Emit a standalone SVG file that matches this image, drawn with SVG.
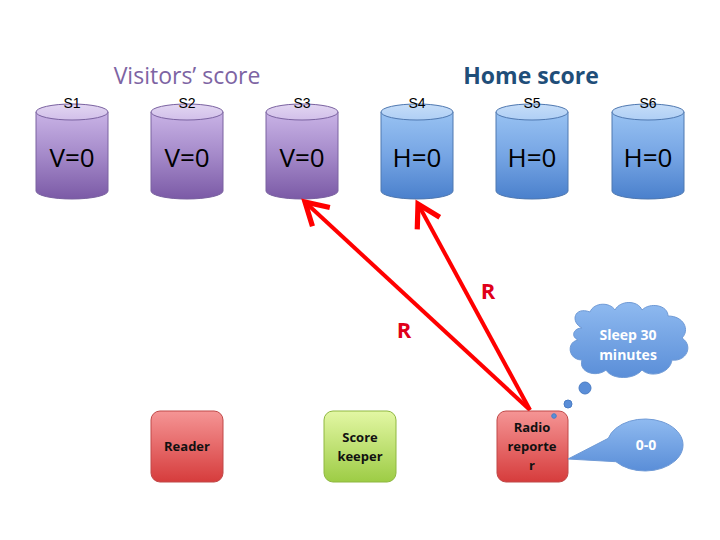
<svg xmlns="http://www.w3.org/2000/svg" width="720" height="540" viewBox="0 0 720 540">
<defs>
<linearGradient id="gPurple" x1="0" y1="0" x2="0" y2="1">
<stop offset="0" stop-color="#c9b3e6"/><stop offset="0.5" stop-color="#a489c9"/><stop offset="1" stop-color="#7b5aa6"/>
</linearGradient>
<linearGradient id="gPurpleTop" x1="0" y1="0" x2="0" y2="1">
<stop offset="0" stop-color="#e2d6f2"/><stop offset="1" stop-color="#d2c0ea"/>
</linearGradient>
<linearGradient id="gBlue" x1="0" y1="0" x2="0" y2="1">
<stop offset="0" stop-color="#98c2f2"/><stop offset="0.5" stop-color="#76a5e4"/><stop offset="1" stop-color="#4a80cc"/>
</linearGradient>
<linearGradient id="gBlueTop" x1="0" y1="0" x2="0" y2="1">
<stop offset="0" stop-color="#c6ddf8"/><stop offset="1" stop-color="#afcff5"/>
</linearGradient>
<linearGradient id="gRed" x1="0" y1="0" x2="0" y2="1">
<stop offset="0" stop-color="#f59595"/><stop offset="1" stop-color="#d63c3c"/>
</linearGradient>
<linearGradient id="gGreen" x1="0" y1="0" x2="0" y2="1">
<stop offset="0" stop-color="#e3f7a4"/><stop offset="1" stop-color="#9dcc45"/>
</linearGradient>
<linearGradient id="gCloud" x1="0" y1="0" x2="0" y2="1">
<stop offset="0" stop-color="#8fbaf0"/><stop offset="1" stop-color="#5a8ed8"/>
</linearGradient>
<marker id="arr" markerWidth="8" markerHeight="8" refX="6.5" refY="4" orient="auto" markerUnits="strokeWidth" viewBox="0 0 8 8">
<polyline points="1,0.8 6.5,4 1,7.2" fill="none" stroke="#ff0000" stroke-width="1.3" stroke-linejoin="miter"/>
</marker>
</defs>
<style>
.lbl{font-family:"Liberation Sans",Arial,sans-serif;font-size:14px;fill:#000;text-anchor:middle}
.val{font-family:"Open Sans","Liberation Sans",sans-serif;font-size:26px;fill:#000;text-anchor:middle}
.pcyl{fill:url(#gPurple);stroke:#7a62a0;stroke-width:1}
.ptop{fill:url(#gPurpleTop);stroke:#7a62a0;stroke-width:1}
.bcyl{fill:url(#gBlue);stroke:#4f78b0;stroke-width:1}
.btop{fill:url(#gBlueTop);stroke:#4f78b0;stroke-width:1}
.box{font-family:"Open Sans","Liberation Sans",sans-serif;font-size:13px;font-weight:bold;fill:#111;text-anchor:middle}
.wt{font-family:"Open Sans","Liberation Sans",sans-serif;font-size:14px;font-weight:bold;fill:#fff;text-anchor:middle}
.conn{stroke:#ff0000;stroke-width:4;fill:none}
.r{font-family:"Open Sans","Liberation Sans",sans-serif;font-size:22px;font-weight:bold;fill:#e0001a;text-anchor:middle}
</style>
<text x="187" y="84" font-family="'Open Sans','Liberation Sans',sans-serif" font-size="23" fill="#7d64a3" text-anchor="middle">Visitors’ score</text>
<text x="531" y="84" font-family="'Open Sans','Liberation Sans',sans-serif" font-size="23" font-weight="bold" fill="#1f4e79" text-anchor="middle">Home score</text>

<g id="S1"><path class="pcyl" d="M36,112 L36,191 A36,8 0 0 0 108,191 L108,112 Z"/><ellipse class="ptop" cx="72" cy="112" rx="36" ry="8"/><text class="lbl" x="72" y="108">S1</text><text class="val" x="72" y="167">V=0</text></g>
<g id="S2"><path class="pcyl" d="M151,112 L151,191 A36,8 0 0 0 223,191 L223,112 Z"/><ellipse class="ptop" cx="187" cy="112" rx="36" ry="8"/><text class="lbl" x="187" y="108">S2</text><text class="val" x="187" y="167">V=0</text></g>
<g id="S3"><path class="pcyl" d="M266,112 L266,191 A36,8 0 0 0 338,191 L338,112 Z"/><ellipse class="ptop" cx="302" cy="112" rx="36" ry="8"/><text class="lbl" x="302" y="108">S3</text><text class="val" x="302" y="167">V=0</text></g>
<g id="S4"><path class="bcyl" d="M381,112 L381,191 A36,8 0 0 0 453,191 L453,112 Z"/><ellipse class="btop" cx="417" cy="112" rx="36" ry="8"/><text class="lbl" x="417" y="108">S4</text><text class="val" x="417" y="167">H=0</text></g>
<g id="S5"><path class="bcyl" d="M496,112 L496,191 A36,8 0 0 0 568,191 L568,112 Z"/><ellipse class="btop" cx="532" cy="112" rx="36" ry="8"/><text class="lbl" x="532" y="108">S5</text><text class="val" x="532" y="167">H=0</text></g>
<g id="S6"><path class="bcyl" d="M612,112 L612,191 A36,8 0 0 0 684,191 L684,112 Z"/><ellipse class="btop" cx="648" cy="112" rx="36" ry="8"/><text class="lbl" x="648" y="108">S6</text><text class="val" x="648" y="167">H=0</text></g>

<g id="connectors">
<line class="conn" x1="530" y1="410" x2="305" y2="202" marker-end="url(#arr)"/>
<line class="conn" x1="530" y1="410" x2="418" y2="204" marker-end="url(#arr)"/>
<text class="r" x="404" y="338">R</text>
<text class="r" x="488" y="299">R</text>
</g>

<g id="reader"><rect x="151" y="411" width="72" height="71" rx="9" fill="url(#gRed)" stroke="#c04848" stroke-width="1"/><text class="box" x="187" y="451">Reader</text></g>
<g id="scorekeeper"><rect x="324" y="411" width="72" height="71" rx="9" fill="url(#gGreen)" stroke="#8fb840" stroke-width="1"/><text class="box" x="360" y="442">Score</text><text class="box" x="360" y="461">keeper</text></g>
<g id="radio"><rect x="497" y="411" width="71" height="71" rx="9" fill="url(#gRed)" stroke="#c04848" stroke-width="1"/><text class="box" x="532" y="432">Radio</text><text class="box" x="532" y="451">reporte</text><text class="box" x="532" y="470">r</text></g>

<g id="sleep">
<path d="M582,328 C570,322 574,306 590,312 C594,302 610,302 615,310 C620,300 638,300 642,310 C650,302 668,305 668,316 C684,316 690,330 682,338 C694,346 686,362 672,360 C670,374 650,378 642,370 C634,380 612,380 606,370 C596,378 578,372 582,360 C568,360 566,342 578,340 C570,336 574,328 582,328 Z" fill="url(#gCloud)" stroke="#6f9ad6" stroke-width="1"/>
<text class="wt" x="628" y="340">Sleep 30</text>
<text class="wt" x="628" y="360">minutes</text>
<circle cx="585" cy="388" r="6" fill="#5a8ed8" stroke="#4a7cc4"/>
<circle cx="568" cy="404" r="4" fill="#5a8ed8" stroke="#4a7cc4"/>
<circle cx="554" cy="416" r="2.3" fill="#5a8ed8" stroke="#4a7cc4"/>
</g>

<g id="score00">
<path d="M608.3,438.3 A38,26 0 1 1 615.9,461.7 L568,459 Z" fill="url(#gCloud)" stroke="#6f9ad6" stroke-width="1"/>
<text class="wt" x="646" y="450">0-0</text>
</g>
</svg>
